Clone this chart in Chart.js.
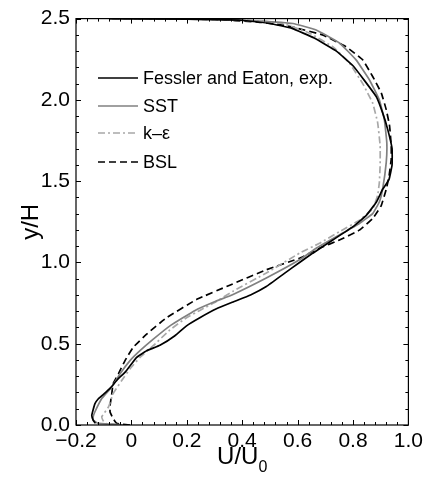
<!DOCTYPE html>
<html>
<head>
<meta charset="UTF-8">
<title>U/U0 profiles</title>
<script src="https://cdn.jsdelivr.net/npm/chart.js"></script>
<style>
    body { margin: 0; padding: 0; background: #fff; }
    #wrap { width: 427px; height: 488px; }
</style>
</head>
<body>
<div id="wrap"><canvas id="profileChart" width="427" height="488"></canvas></div>
<script>
    // velocity profiles: U/U0 against y/H
    const expU = [-0.13, -0.138, -0.143, -0.132, -0.12, -0.10, -0.075, -0.05, -0.02, 0.019, 0.055, 0.103, 0.157, 0.199, 0.247, 0.307, 0.367, 0.43, 0.487, 0.55, 0.607, 0.655, 0.727, 0.80, 0.848, 0.884, 0.907, 0.93, 0.941, 0.941, 0.925, 0.907, 0.884, 0.841, 0.80, 0.74, 0.66, 0.58, 0.50, 0.40, 0.20, -0.08];
    const expY = [0.01, 0.03, 0.06, 0.13, 0.16, 0.19, 0.23, 0.28, 0.33, 0.416, 0.457, 0.49, 0.549, 0.61, 0.66, 0.715, 0.757, 0.80, 0.852, 0.93, 1.0, 1.057, 1.138, 1.22, 1.29, 1.37, 1.45, 1.51, 1.60, 1.70, 1.82, 1.92, 2.02, 2.12, 2.21, 2.30, 2.38, 2.44, 2.47, 2.49, 2.497, 2.5];

    const sstU = [-0.03, -0.066, -0.12, -0.138, -0.138, -0.132, -0.107, -0.071, -0.041, -0.005, 0.031, 0.079, 0.139, 0.23, 0.30, 0.367, 0.487, 0.607, 0.667, 0.751, 0.823, 0.871, 0.895, 0.907, 0.92, 0.922, 0.913, 0.895, 0.859, 0.811, 0.751, 0.667, 0.583, 0.46, 0.30, -0.08];
    const sstY = [0.0, 0.005, 0.01, 0.03, 0.05, 0.08, 0.163, 0.233, 0.315, 0.396, 0.457, 0.528, 0.61, 0.705, 0.758, 0.803, 0.904, 1.016, 1.087, 1.169, 1.24, 1.30, 1.372, 1.453, 1.616, 1.738, 1.88, 2.0, 2.124, 2.246, 2.35, 2.43, 2.47, 2.485, 2.495, 2.5];

    const keU = [-0.05, -0.09, -0.10, -0.107, -0.083, -0.066, -0.035, -0.005, 0.031, 0.079, 0.139, 0.199, 0.247, 0.307, 0.367, 0.487, 0.607, 0.679, 0.751, 0.823, 0.871, 0.889, 0.895, 0.898, 0.898, 0.889, 0.871, 0.835, 0.787, 0.727, 0.643, 0.547, 0.45, 0.30, -0.08];
    const keY = [0.0, 0.008, 0.02, 0.05, 0.11, 0.193, 0.274, 0.345, 0.416, 0.488, 0.585, 0.66, 0.705, 0.76, 0.823, 0.935, 1.057, 1.118, 1.189, 1.26, 1.33, 1.413, 1.49, 1.60, 1.717, 1.86, 1.98, 2.10, 2.226, 2.327, 2.41, 2.47, 2.487, 2.495, 2.5];

    const bslU = [-0.005, -0.053, -0.066, -0.077, -0.077, -0.071, -0.066, -0.047, -0.023, 0.006, 0.055, 0.127, 0.235, 0.355, 0.487, 0.607, 0.679, 0.751, 0.823, 0.871, 0.902, 0.92, 0.93, 0.938, 0.938, 0.932, 0.92, 0.902, 0.871, 0.835, 0.775, 0.69, 0.60, 0.547, 0.45, 0.30, -0.08];
    const bslY = [0.0, 0.01, 0.04, 0.08, 0.12, 0.19, 0.254, 0.315, 0.396, 0.477, 0.559, 0.66, 0.772, 0.86, 0.955, 1.026, 1.087, 1.138, 1.199, 1.27, 1.35, 1.45, 1.53, 1.636, 1.717, 1.84, 1.94, 2.043, 2.144, 2.246, 2.327, 2.40, 2.44, 2.46, 2.48, 2.495, 2.5];

    const seriesNames = ['Fessler and Eaton, exp.', 'SST', 'k\u2013\u03b5', 'BSL'];

    const xTicks = [-0.2, 0, 0.2, 0.4, 0.6, 0.8, 1.0];
    const xTickLabels = ['\u22120.2', '0', '0.2', '0.4', '0.6', '0.8', '1.0'];
    const yTicks = [0, 0.5, 1.0, 1.5, 2.0, 2.5];
    const yTickLabels = ['0.0', '0.5', '1.0', '1.5', '2.0', '2.5'];

    const FONT = '"Liberation Sans", Arial, Helvetica, sans-serif';

    function pts(us, ys) {
        return us.map((u, i) => ({ x: u, y: ys[i] }));
    }

    // box, inward ticks on all four sides, legend and axis titles
    const frameDecor = {
        id: 'frameDecor',
        afterDatasetsDraw(chart) {
            const { ctx, chartArea: a, scales } = chart;
            const xs = scales.x, ys = scales.y;
            ctx.save();
            ctx.strokeStyle = '#000';
            ctx.lineWidth = 1.2;
            ctx.strokeRect(a.left, a.top, a.right - a.left, a.bottom - a.top);

            ctx.lineWidth = 1;
            ctx.beginPath();
            for (let i = 0; i <= 30; i++) {
                const v = -0.2 + i * 0.04;
                const px = Math.round(xs.getPixelForValue(v)) + 0.5;
                const len = i % 5 === 0 ? 5 : 3;
                ctx.moveTo(px, a.bottom); ctx.lineTo(px, a.bottom - len);
                ctx.moveTo(px, a.top); ctx.lineTo(px, a.top + len);
            }
            for (let i = 0; i <= 25; i++) {
                const v = i * 0.1;
                const py = Math.round(ys.getPixelForValue(v)) + 0.5;
                const len = i % 5 === 0 ? 5 : 3;
                ctx.moveTo(a.left, py); ctx.lineTo(a.left + len, py);
                ctx.moveTo(a.right, py); ctx.lineTo(a.right - len, py);
            }
            ctx.stroke();

            // legend
            const rows = [78, 106, 133, 162];
            ctx.font = '18px ' + FONT;
            ctx.textBaseline = 'middle';
            ctx.textAlign = 'left';
            chart.data.datasets.forEach((ds, i) => {
                ctx.strokeStyle = ds.borderColor;
                ctx.lineWidth = ds.borderWidth;
                ctx.setLineDash(ds.borderDash || []);
                ctx.beginPath();
                ctx.moveTo(98, rows[i]);
                ctx.lineTo(138, rows[i]);
                ctx.stroke();
                ctx.setLineDash([]);
                ctx.fillStyle = '#000';
                ctx.fillText(ds.label, 143, rows[i] + 1);
            });

            // axis titles
            ctx.fillStyle = '#000';
            ctx.font = '24px ' + FONT;
            ctx.textBaseline = 'alphabetic';
            const main = 'U/U';
            const wMain = ctx.measureText(main).width;
            ctx.font = '16px ' + FONT;
            const wSub = ctx.measureText('0').width;
            const cx = (a.left + a.right) / 2;
            const x0 = cx - (wMain + wSub) / 2;
            ctx.font = '24px ' + FONT;
            ctx.fillText(main, x0, 464);
            ctx.font = '16px ' + FONT;
            ctx.fillText('0', x0 + wMain, 472);

            ctx.save();
            ctx.translate(38, (a.top + a.bottom) / 2);
            ctx.rotate(-Math.PI / 2);
            ctx.font = '24px ' + FONT;
            ctx.textAlign = 'center';
            ctx.fillText('y/H', 0, 0);
            ctx.restore();

            ctx.restore();
        }
    };

    const ctx = document.getElementById('profileChart').getContext('2d');

    const chart = new Chart(ctx, {
        type: 'scatter',
        data: {
            datasets: [
                {
                    label: seriesNames[0],
                    data: pts(expU, expY),
                    borderColor: '#000000',
                    borderWidth: 1.7,
                    showLine: true
                },
                {
                    label: seriesNames[1],
                    data: pts(sstU, sstY),
                    borderColor: '#808080',
                    borderWidth: 1.7,
                    showLine: true
                },
                {
                    label: seriesNames[2],
                    data: pts(keU, keY),
                    borderColor: '#a8a8a8',
                    borderWidth: 1.7,
                    borderDash: [7, 3, 2, 3],
                    showLine: true
                },
                {
                    label: seriesNames[3],
                    data: pts(bslU, bslY),
                    borderColor: '#000000',
                    borderWidth: 1.7,
                    borderDash: [7, 4],
                    showLine: true
                }
            ]
        },
        options: {
            responsive: false,
            animation: false,
            devicePixelRatio: 1,
            layout: { padding: { left: 0, right: 18, top: 15, bottom: 0 } },
            elements: {
                point: { radius: 0, hoverRadius: 0 },
                line: { tension: 0.1, fill: false }
            },
            plugins: {
                legend: { display: false },
                tooltip: { enabled: false }
            },
            scales: {
                x: {
                    type: 'linear',
                    min: -0.2,
                    max: 1.0,
                    afterBuildTicks: s => { s.ticks = xTicks.map(v => ({ value: v })); },
                    afterFit: s => { s.height = 63; },
                    grid: { display: false, drawTicks: false },
                    border: { display: false },
                    ticks: {
                        padding: 4,
                        color: '#000',
                        font: { family: FONT, size: 21 },
                        maxRotation: 0,
                        callback: (v) => xTickLabels[xTicks.findIndex(t => Math.abs(t - v) < 1e-9)]
                    }
                },
                y: {
                    type: 'linear',
                    min: 0,
                    max: 2.5,
                    afterBuildTicks: s => { s.ticks = yTicks.map(v => ({ value: v })); },
                    afterFit: s => { s.width = 76; },
                    grid: { display: false, drawTicks: false },
                    border: { display: false },
                    ticks: {
                        padding: 6,
                        color: '#000',
                        font: { family: FONT, size: 21 },
                        callback: (v) => yTickLabels[yTicks.findIndex(t => Math.abs(t - v) < 1e-9)]
                    }
                }
            }
        },
        plugins: [frameDecor]
    });
</script>
</body>
</html>
